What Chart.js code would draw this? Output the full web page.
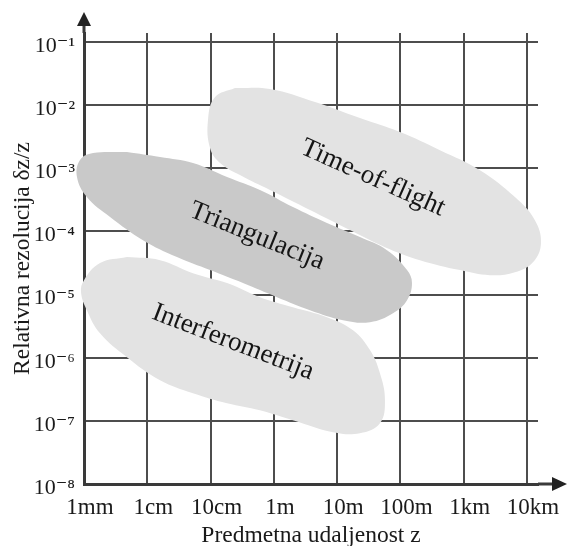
<!DOCTYPE html>
<html>
<head>
<meta charset="utf-8">
<script src="https://cdn.jsdelivr.net/npm/chart.js@4"></script>
<style>
  html, body { margin: 0; padding: 0; background: #ffffff; }
  #wrap { width: 569px; height: 546px; position: relative; }
</style>
</head>
<body>
<div id="wrap"><canvas id="chart"></canvas></div>
<script>
// Axis ticks (distance in metres, relative resolution dz/z)
const xTickValues = [1e-3, 1e-2, 1e-1, 1, 10, 100, 1000, 10000];
const xTickLabels = ['1mm', '1cm', '10cm', '1m', '10m', '100m', '1km', '10km'];
const yTickValues = [1e-8, 1e-7, 1e-6, 1e-5, 1e-4, 1e-3, 1e-2, 1e-1];
const yTickLabels = ['10⁻⁸', '10⁻⁷', '10⁻⁶', '10⁻⁵', '10⁻⁴', '10⁻³', '10⁻²', '10⁻¹'];

// Region outlines
const tofX = [0.243, 0.867, 4.46, 22.9, 98, 421, 1800, 6440, 13300, 16600, 12400, 6440, 2590, 871, 203, 56.9, 15.9, 3.72, 0.867, 0.291, 0.141, 0.098, 0.091, 0.117, 0.243];
const tofY = [1.87e-2, 1.80e-2, 1.12e-2, 6.25e-3, 3.75e-3, 1.94e-3, 9.35e-4, 3.5e-4, 1.51e-4, 6.53e-5, 3.26e-5, 2.26e-5, 2.03e-5, 2.44e-5, 3.51e-5, 5.64e-5, 1.05e-4, 2.18e-4, 4.52e-4, 7.8e-4, 1.21e-3, 2.09e-3, 5.8e-3, 1.34e-2, 1.87e-2];

const triX = [4.77e-3, 1.59e-2, 5.27e-2, 0.182, 0.603, 2.0, 6.9, 22.9, 61.2, 127, 152, 127, 76.2, 33.0, 12.4, 3.72, 1.12, 0.325, 0.098, 2.94e-2, 8.55e-3, 2.58e-3, 1.11e-3, 7.75e-4, 8.65e-4, 1.39e-3, 4.77e-3];
const triY = [1.81e-3, 1.51e-3, 1.21e-3, 7.26e-4, 4.52e-4, 2.43e-4, 1.36e-4, 8.13e-5, 5.06e-5, 2.44e-5, 1.52e-5, 8.15e-6, 5.07e-6, 3.66e-6, 3.93e-6, 5.66e-6, 9.1e-6, 1.52e-5, 2.44e-5, 3.92e-5, 7.28e-5, 1.69e-4, 3.5e-4, 7.26e-4, 1.35e-3, 1.74e-3, 1.81e-3];

const interfX = [4.77e-3, 1.59e-2, 5.27e-2, 0.182, 0.603, 2.0, 6.9, 17.8, 33.0, 47.4, 56.9, 47.4, 22.9, 8.59, 2.0, 0.603, 0.182, 5.27e-2, 1.59e-2, 4.77e-3, 1.79e-3, 1.11e-3, 8.97e-4, 1.0e-3, 1.79e-3, 4.77e-3];
const interfY = [3.92e-5, 3.51e-5, 2.18e-5, 1.52e-5, 9.1e-6, 6.31e-6, 4.39e-6, 2.73e-6, 1.32e-6, 5.68e-7, 2.12e-7, 9.16e-8, 6.36e-8, 6.59e-8, 1.02e-7, 1.47e-7, 1.9e-7, 2.74e-7, 4.4e-7, 1.02e-6, 2.44e-6, 5.66e-6, 1.09e-5, 1.69e-5, 3.15e-5, 3.92e-5];

// Region names and where they sit
const regionNames = ['Interferometrija', 'Triangulacija', 'Time-of-flight'];
const regionLabelX = [0.226, 0.54, 36.8];
const regionLabelY = [1.76e-6, 8.4e-5, 7.0e-4];

const serif = "'Liberation Serif', 'DejaVu Serif', 'Times New Roman', serif";
const labelAngles = [21, 22, 24];

function toPoints(xs, ys) {
    return xs.map((x, i) => ({ x: x, y: ys[i] }));
}

// fill each outline without clipping to the chart area (blobs overlap the y axis)
const blobFill = {
    id: 'blobFill',
    beforeDatasetDraw(chart, args) {
        const line = args.meta.dataset;
        const ds = chart.data.datasets[args.index];
        const ctx = chart.ctx;
        line.updateControlPoints(chart.chartArea, 'x');
        ctx.save();
        ctx.beginPath();
        line.path(ctx);
        ctx.closePath();
        ctx.fillStyle = ds.backgroundColor;
        ctx.fill();
        ctx.restore();
    }
};

const regionText = {
    id: 'regionText',
    afterDatasetsDraw(chart) {
        const ctx = chart.ctx;
        const xs = chart.scales.x, ys = chart.scales.y;
        ctx.save();
        ctx.fillStyle = '#151515';
        ctx.font = '27px ' + serif;
        ctx.textAlign = 'center';
        ctx.textBaseline = 'middle';
        regionNames.forEach((name, i) => {
            ctx.save();
            ctx.translate(xs.getPixelForValue(regionLabelX[i]), ys.getPixelForValue(regionLabelY[i]));
            ctx.rotate(labelAngles[i] * Math.PI / 180);
            ctx.fillText(name, 0, 0);
            ctx.restore();
        });
        ctx.restore();
    }
};

// arrow heads at the ends of both axes
const axisArrows = {
    id: 'axisArrows',
    afterDraw(chart) {
        const { left, top, right, bottom } = chart.chartArea;
        const ctx = chart.ctx;
        ctx.save();
        ctx.strokeStyle = '#3a3a3a';
        ctx.fillStyle = '#222';
        ctx.lineWidth = 3;
        ctx.beginPath();
        ctx.moveTo(left, top);
        ctx.lineTo(left, top - 8);
        ctx.moveTo(right, bottom);
        ctx.lineTo(right + 16, bottom);
        ctx.stroke();
        ctx.beginPath();
        ctx.moveTo(left, top - 21);
        ctx.lineTo(left - 7, top - 7);
        ctx.lineTo(left + 7, top - 7);
        ctx.closePath();
        ctx.fill();
        ctx.beginPath();
        ctx.moveTo(right + 29, bottom);
        ctx.lineTo(right + 14, bottom - 7);
        ctx.lineTo(right + 14, bottom + 7);
        ctx.closePath();
        ctx.fill();
        ctx.restore();
    }
};

const blobStyle = {
    borderWidth: 0,
    pointRadius: 0,
    pointHoverRadius: 0,
    fill: false,
    tension: 0.4,
    capBezierPoints: false,
    clip: false
};

new Chart(document.getElementById('chart').getContext('2d'), {
    type: 'line',
    data: {
        datasets: [
            { ...blobStyle, label: regionNames[0], data: toPoints(interfX, interfY), backgroundColor: '#e3e3e3', borderColor: '#e3e3e3' },
            { ...blobStyle, label: regionNames[1], data: toPoints(triX, triY), backgroundColor: '#c9c9c9', borderColor: '#c9c9c9' },
            { ...blobStyle, label: regionNames[2], data: toPoints(tofX, tofY), backgroundColor: '#e3e3e3', borderColor: '#e3e3e3' }
        ]
    },
    options: {
        responsive: true,
        maintainAspectRatio: false,
        animation: false,
        layout: { padding: { top: 33, right: 31, bottom: 0, left: 0 } },
        plugins: {
            legend: { display: false },
            tooltip: { enabled: false }
        },
        scales: {
            x: {
                type: 'logarithmic',
                min: 1e-3,
                max: 14900,
                afterBuildTicks: (scale) => { scale.ticks = xTickValues.map(v => ({ value: v })); },
                afterFit: (scale) => { scale.height = 62; },
                grid: { color: '#4d4d4d', lineWidth: 2, drawTicks: false },
                border: { color: '#3a3a3a', width: 3 },
                ticks: {
                    autoSkip: false,
                    maxRotation: 0,
                    padding: 10,
                    labelOffset: 6,
                    color: '#1a1a1a',
                    font: { family: serif, size: 23 },
                    callback: (value, index) => xTickLabels[index]
                },
                title: {
                    display: true,
                    text: 'Predmetna udaljenost z',
                    color: '#1a1a1a',
                    padding: { top: 0, bottom: 0 },
                    font: { family: serif, size: 23.5, lineHeight: 0.9 }
                }
            },
            y: {
                type: 'logarithmic',
                min: 1e-8,
                max: 0.139,
                afterBuildTicks: (scale) => { scale.ticks = yTickValues.map(v => ({ value: v })); },
                afterFit: (scale) => { scale.width = 84; },
                grid: { color: '#4d4d4d', lineWidth: 2, drawTicks: false },
                border: { color: '#3a3a3a', width: 3 },
                ticks: {
                    autoSkip: false,
                    padding: 9,
                    labelOffset: 4,
                    color: '#1a1a1a',
                    font: { family: serif, size: 22 },
                    callback: (value, index) => yTickLabels[index]
                },
                title: {
                    display: true,
                    text: 'Relativna rezolucija δz/z',
                    color: '#1a1a1a',
                    padding: { top: 9, bottom: 0 },
                    font: { family: serif, size: 23.5 }
                }
            }
        }
    },
    plugins: [blobFill, regionText, axisArrows]
});
</script>
</body>
</html>
